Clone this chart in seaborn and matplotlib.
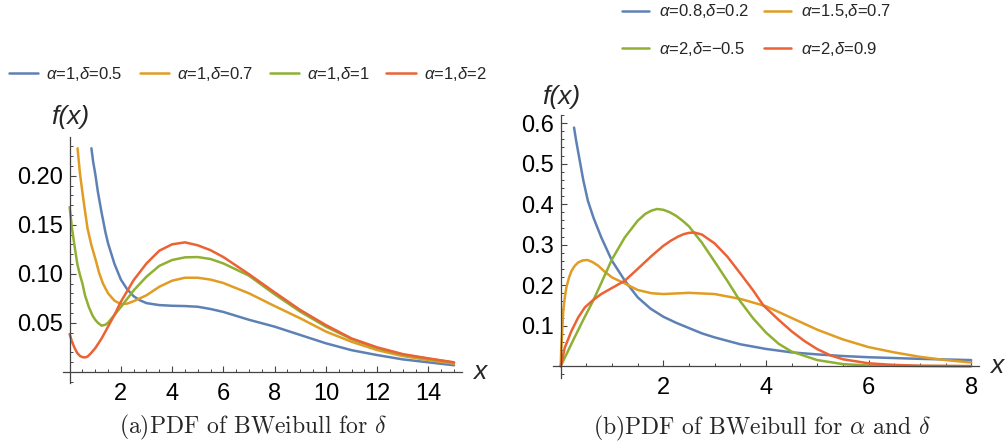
import pandas as pd
import seaborn as sns
import matplotlib.pyplot as plt
from matplotlib.ticker import MultipleLocator

# Colours (Mathematica default plot style)
colors = ['#5E81B5', '#E19C24', '#8FB032', '#EB6235']

# ---- panel (a): alpha = 1, delta varies ----
a_labels = [r'$\alpha$=1,$\delta$=0.5', r'$\alpha$=1,$\delta$=0.7',
            r'$\alpha$=1,$\delta$=1', r'$\alpha$=1,$\delta$=2']

a_x_d05 = [0.85, 0.92, 1.0, 1.1, 1.25, 1.4, 1.5, 1.75, 2.0, 2.25, 2.5, 2.75, 3.0, 3.5, 4.0,
           4.5, 5.0, 5.5, 6.0, 6.5, 7.0, 7.5, 8.0, 9.0, 10.0, 11.0, 12.0, 13.0, 14.0, 15.0]
a_y_d05 = [0.228, 0.214, 0.202, 0.184, 0.162, 0.142, 0.131, 0.110, 0.094, 0.084, 0.077,
           0.0728, 0.070, 0.068, 0.0673, 0.067, 0.0663, 0.064, 0.061, 0.057, 0.053, 0.0495,
           0.046, 0.0375, 0.029, 0.022, 0.017, 0.0126, 0.0096, 0.0066]

a_x_d07 = [0.31, 0.4, 0.5, 0.6, 0.7, 0.85, 1.0, 1.15, 1.3, 1.5, 1.75, 2.0, 2.25, 2.5, 3.0, 3.5,
           4.0, 4.5, 5.0, 5.5, 6.0, 7.0, 8.0, 9.0, 10.0, 11.0, 12.0, 13.0, 14.0, 15.0]
a_y_d07 = [0.228, 0.203, 0.183, 0.164, 0.146, 0.129, 0.1156, 0.101, 0.090, 0.080, 0.0725,
           0.0690, 0.0695, 0.0720, 0.078, 0.0867, 0.0929, 0.0959, 0.0959, 0.094, 0.0905,
           0.080, 0.067, 0.0545, 0.041, 0.0306, 0.0221, 0.016, 0.0119, 0.0083]

a_x_d1 = [0.0, 0.1, 0.2, 0.3, 0.4, 0.5, 0.6, 0.75, 0.9, 1.0, 1.1, 1.25, 1.4, 1.5, 1.75, 2.0,
          2.5, 3.0, 3.5, 4.0, 4.5, 5.0, 5.5, 6.0, 7.0, 8.0, 9.0, 10.0, 11.0, 12.0, 13.0, 14.0, 15.0]
a_y_d1 = [0.168, 0.145, 0.127, 0.110, 0.099, 0.090, 0.078, 0.066, 0.057, 0.053, 0.050, 0.047,
          0.048, 0.050, 0.058, 0.066, 0.083, 0.097, 0.108, 0.114, 0.1167, 0.1170, 0.115, 0.1105,
          0.098, 0.079, 0.0613, 0.046, 0.0333, 0.0242, 0.0173, 0.0133, 0.0093]

a_x_d2 = [0.0, 0.1, 0.2, 0.3, 0.4, 0.5, 0.6, 0.7, 0.8, 1.0, 1.25, 1.5, 1.75, 2.0, 2.5, 3.0,
          3.5, 4.0, 4.5, 5.0, 5.5, 6.0, 7.0, 8.0, 9.0, 10.0, 11.0, 12.0, 13.0, 14.0, 15.0]
a_y_d2 = [0.0384, 0.030, 0.024, 0.019, 0.0162, 0.0149, 0.0146, 0.0155, 0.018, 0.024, 0.034,
          0.046, 0.058, 0.0714, 0.0935, 0.1105, 0.1235, 0.130, 0.132, 0.129, 0.124, 0.117,
          0.0995, 0.081, 0.063, 0.0476, 0.034, 0.0249, 0.018, 0.0136, 0.0096]

# ---- panel (b): alpha and delta vary ----
b_labels = [r'$\alpha$=0.8,$\delta$=0.2', r'$\alpha$=1.5,$\delta$=0.7',
            r'$\alpha$=2,$\delta$=−0.5', r'$\alpha$=2,$\delta$=0.9']

b_x_1 = [0.26, 0.3, 0.35, 0.44, 0.53, 0.64, 0.79, 1.0, 1.25, 1.5, 1.75, 2.0, 2.25, 2.5, 2.75,
         3.0, 3.5, 4.0, 4.5, 5.0, 5.5, 6.0, 7.0, 8.0]
b_y_1 = [0.589, 0.557, 0.522, 0.459, 0.408, 0.366, 0.318, 0.26, 0.211, 0.17, 0.142, 0.122,
         0.107, 0.094, 0.081, 0.071, 0.054, 0.0425, 0.034, 0.029, 0.025, 0.022, 0.018, 0.015]

b_x_2 = [0.0, 0.01, 0.026, 0.05, 0.08, 0.11, 0.16, 0.21, 0.27, 0.34, 0.43, 0.52, 0.62, 0.73,
         0.85, 1.0, 1.25, 1.5, 1.77, 2.0, 2.5, 3.0, 3.5, 4.0, 4.5, 5.0, 5.5, 6.0, 6.5, 7.0,
         7.5, 8.0]
b_y_2 = [0.0, 0.04, 0.079, 0.137, 0.17, 0.194, 0.218, 0.235, 0.247, 0.256, 0.261, 0.262,
         0.257, 0.248, 0.234, 0.219, 0.204, 0.188, 0.180, 0.178, 0.181, 0.178, 0.166, 0.148,
         0.119, 0.090, 0.066, 0.047, 0.034, 0.023, 0.015, 0.009]

b_x_3 = [0.0, 0.27, 0.45, 0.63, 0.8, 1.0, 1.25, 1.5, 1.65, 1.77, 1.88, 2.0, 2.125, 2.25, 2.375,
         2.5, 2.75, 3.0, 3.25, 3.5, 3.75, 4.0, 4.25, 4.5, 5.0, 5.5, 6.0, 7.0, 8.0]
b_y_3 = [0.0, 0.071, 0.117, 0.161, 0.208, 0.264, 0.318, 0.359, 0.376, 0.384, 0.388, 0.386,
         0.380, 0.371, 0.359, 0.345, 0.305, 0.258, 0.21, 0.160, 0.118, 0.083, 0.055, 0.036,
         0.015, 0.005, 0.0015, 0.0003, 0.0]

b_x_4 = [0.0, 0.08, 0.21, 0.34, 0.47, 0.63, 0.79, 1.0, 1.25, 1.5, 1.77, 2.0, 2.15, 2.29, 2.4,
         2.5, 2.6, 2.75, 3.0, 3.25, 3.5, 3.75, 3.95, 4.25, 4.5, 4.75, 5.0, 5.25, 5.5, 6.0, 6.5,
         7.0, 8.0]
b_y_4 = [0.0, 0.046, 0.087, 0.12, 0.145, 0.163, 0.178, 0.193, 0.211, 0.24, 0.272, 0.297,
         0.310, 0.320, 0.326, 0.329, 0.330, 0.325, 0.303, 0.270, 0.229, 0.187, 0.150, 0.114,
         0.086, 0.062, 0.042, 0.027, 0.017, 0.007, 0.003, 0.001, 0.0]


def make_frame(xs, ys, labels):
    parts = []
    for x, y, lab in zip(xs, ys, labels):
        parts.append(pd.DataFrame({'x': x, 'y': y, 'curve': lab}))
    return pd.concat(parts, ignore_index=True)


df_a = make_frame([a_x_d05, a_x_d07, a_x_d1, a_x_d2],
                  [a_y_d05, a_y_d07, a_y_d1, a_y_d2], a_labels)
df_b = make_frame([b_x_1, b_x_2, b_x_3, b_x_4],
                  [b_y_1, b_y_2, b_y_3, b_y_4], b_labels)

sns.set_theme(style='white')
plt.rcParams['font.family'] = ['Liberation Sans', 'DejaVu Sans']
plt.rcParams['mathtext.fontset'] = 'custom'
plt.rcParams['mathtext.rm'] = 'Liberation Sans'
plt.rcParams['mathtext.it'] = 'Liberation Sans:italic'

W, H = 1006, 446
fig = plt.figure(figsize=(W / 100, H / 100), dpi=100)


def px_axes(l, t, r, b):
    return fig.add_axes([l / W, 1 - b / H, (r - l) / W, (b - t) / H])


ax_a = px_axes(62.7, 137, 461.7, 383)
ax_b = px_axes(552.5, 115, 979.4, 378.3)


def style_axes(ax, xlim, ylim, xmaj, xmin, ymaj, ymin, ylabels):
    ax.set_xlim(*xlim)
    ax.set_ylim(*ylim)
    for s in ['top', 'right']:
        ax.spines[s].set_visible(False)
    for s in ['left', 'bottom']:
        ax.spines[s].set_position(('data', 0))
        ax.spines[s].set_color('#444444')
        ax.spines[s].set_linewidth(0.9)
    ax.set_xticks(xmaj)
    ax.set_xticklabels([str(v) for v in xmaj])
    ax.set_yticks(ymaj)
    ax.set_yticklabels(ylabels)
    ax.xaxis.set_minor_locator(MultipleLocator(xmin))
    ax.yaxis.set_minor_locator(MultipleLocator(ymin))
    ax.tick_params(which='major', direction='in', length=4.5, width=0.8,
                   color='#444444', labelsize=17, labelcolor='black')
    ax.tick_params(which='minor', direction='in', length=2.5, width=0.7, color='#444444')
    ax.tick_params(axis='x', which='major', pad=8)
    ax.tick_params(axis='y', which='major', pad=5)
    ax.tick_params(left=True, bottom=True, which='both')
    ax.set_xlabel('')
    ax.set_ylabel('')
    ax.patch.set_visible(False)


sns.lineplot(data=df_a, x='x', y='y', hue='curve', palette=colors, sort=False,
             estimator=None, linewidth=1.8, ax=ax_a)
sns.lineplot(data=df_b, x='x', y='y', hue='curve', palette=colors, sort=False,
             estimator=None, linewidth=1.8, ax=ax_b)

style_axes(ax_a, (-0.27, 15.3), (-0.0115, 0.2395), [2, 4, 6, 8, 10, 12, 14], 0.5,
           [0.05, 0.10, 0.15, 0.20], 0.01, ['0.05', '0.10', '0.15', '0.20'])
style_axes(ax_b, (-0.16, 8.16), (-0.03, 0.62), [2, 4, 6, 8], 0.5,
           [0.1, 0.2, 0.3, 0.4, 0.5, 0.6], 0.02, ['0.1', '0.2', '0.3', '0.4', '0.5', '0.6'])

# legends above each panel
h_a, l_a = ax_a.get_legend_handles_labels()
ax_a.get_legend().remove()
fig.legend(h_a, l_a, loc='center left', bbox_to_anchor=(9 / W, 1 - 74 / H), ncol=4,
           frameon=False, fontsize=12, handlelength=1.75, handletextpad=0.5,
           columnspacing=1.0, borderpad=0, borderaxespad=0)

# two rows, filled row by row like the reference
h_b, l_b = ax_b.get_legend_handles_labels()
ax_b.get_legend().remove()
order = [0, 2, 1, 3]
fig.legend([h_b[i] for i in order], [l_b[i] for i in order], loc='center left',
           bbox_to_anchor=(622 / W, 1 - 30 / H), ncol=2,
           frameon=False, fontsize=12, handlelength=1.6, handletextpad=0.6,
           columnspacing=0.9, labelspacing=1.15, borderpad=0, borderaxespad=0)

# axis labels in Mathematica style
lab_kw = dict(ha='center', va='center', fontsize=19, fontstyle='italic')
fig.text(70 / W, 1 - 117 / H, 'f(x)', **lab_kw)
fig.text(480 / W, 1 - 372 / H, 'x', **lab_kw)
fig.text(561 / W, 1 - 97 / H, 'f(x)', **lab_kw)
fig.text(997 / W, 1 - 366 / H, 'x', **lab_kw)

# captions
cap_kw = dict(ha='center', va='center', fontsize=17, family='cmr10', math_fontfamily='cm')
fig.text(253 / W, 1 - 427 / H, r'(a)PDF of BWeibull for $\delta$', **cap_kw)
fig.text(762 / W, 1 - 428 / H, r'(b)PDF of BWeibull for $\alpha$ and $\delta$', **cap_kw)

fig.savefig('out.png', dpi=100)
